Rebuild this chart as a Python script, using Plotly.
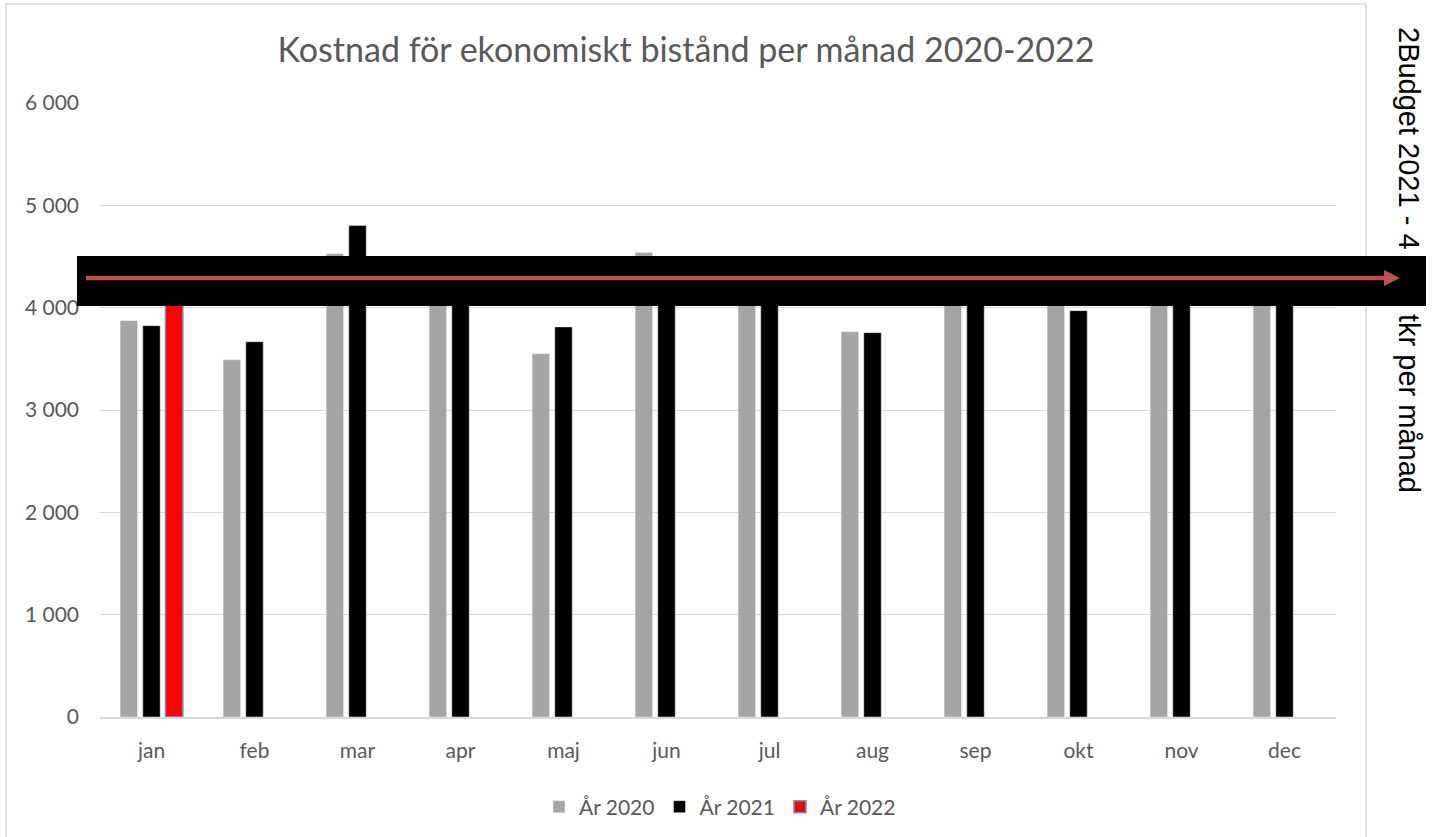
import plotly.graph_objects as go

months = ["jan", "feb", "mar", "apr", "maj", "jun", "jul", "aug", "sep", "okt", "nov", "dec"]
y2020 = [3873, 3491, 4528, 4300, 3550, 4538, 4250, 3765, 4300, 4250, 4300, 4350]
y2021 = [3824, 3667, 4802, 4350, 3812, 4300, 4280, 3756, 4250, 3971, 4200, 4320]
y2022 = [4250, None, None, None, None, None, None, None, None, None, None, None]
series_names = ["År 2020", "År 2021", "År 2022"]
tick_vals = [0, 1000, 2000, 3000, 4000, 5000, 6000]
tick_text = ["0", "1 000", "2 000", "3 000", "4 000", "5 000", "6 000"]
title_text = "Kostnad för ekonomiskt bistånd per månad 2020-2022"
side_text = "2Budget 2021 - 4 300 tkr per månad"

W, H = 1442, 837
L, R, T, B = 100, 106, 103, 120
pw, ph = W - L - R, H - T - B


def px(x):
    return (x - L) / pw


def py(y):
    return (H - B - y) / ph


fig = go.Figure()
fig.add_trace(go.Bar(x=months, y=y2020, name=series_names[0], marker=dict(color="#A5A5A5")))
fig.add_trace(go.Bar(x=months, y=y2021, name=series_names[1], marker=dict(color="#000000")))
fig.add_trace(go.Bar(x=months, y=y2022, name=series_names[2],
                     marker=dict(color="#FF0000", line=dict(color="#5B9BD5", width=1.5))))

font_fam = "Lato, Open Sans, sans-serif"
shapes = [
    # chart frame
    dict(type="rect", xref="paper", yref="paper", x0=px(6), x1=px(1366), y0=py(845), y1=py(4),
         line=dict(color="#D9D9D9", width=1.5), fillcolor="rgba(0,0,0,0)", layer="below"),
    # black band overlay
    dict(type="rect", xref="paper", yref="paper", x0=px(77), x1=px(1426), y0=py(306), y1=py(256),
         line=dict(width=0), fillcolor="#000000", layer="above"),
    # red arrow line
    dict(type="line", xref="paper", yref="paper", x0=px(86), x1=px(1386), y0=py(278), y1=py(278),
         line=dict(color="#C0504D", width=4.5), layer="above"),
    dict(type="path", xref="paper", yref="paper",
         path=f"M {px(1384)} {py(270)} L {px(1400)} {py(278)} L {px(1384)} {py(286)} Z",
         line=dict(width=0), fillcolor="#C0504D", layer="above"),
]

fig.update_layout(
    width=W, height=H,
    margin=dict(l=L, r=R, t=T, b=B, autoexpand=False),
    paper_bgcolor="white", plot_bgcolor="white",
    barmode="group", bargap=0.34, bargroupgap=0.23,
    title=dict(text=title_text, x=686 / W, xanchor="center", y=1 - 50 / H, yanchor="middle",
               font=dict(family=font_fam, size=34, color="#595959")),
    xaxis=dict(showgrid=False, showline=True, linecolor="#D9D9D9", linewidth=1.5,
               tickfont=dict(family=font_fam, size=21, color="#595959"), ticks="",
               ticklabelstandoff=14, fixedrange=True),
    yaxis=dict(range=[0, 6000], tickvals=tick_vals, ticktext=tick_text, showgrid=True,
               gridcolor="#D9D9D9", gridwidth=1.2, zeroline=False, showline=False, ticks="",
               tickfont=dict(family=font_fam, size=21, color="#595959"),
               ticklabelstandoff=20, fixedrange=True),
    legend=dict(orientation="h", x=px(720), xanchor="center", y=py(807), yanchor="middle",
                font=dict(family=font_fam, size=21, color="#595959"), itemwidth=30,
                traceorder="normal"),
    shapes=shapes,
    annotations=[dict(text=side_text, xref="paper", yref="paper", x=px(1409), y=py(260),
                      xanchor="center", yanchor="middle", textangle=90, showarrow=False,
                      font=dict(family="Liberation Sans, Arial, sans-serif", size=29, color="#000000"))],
)

fig.write_html("out.html", post_script="document.body.style.margin='0';",
               config={"displayModeBar": False})
